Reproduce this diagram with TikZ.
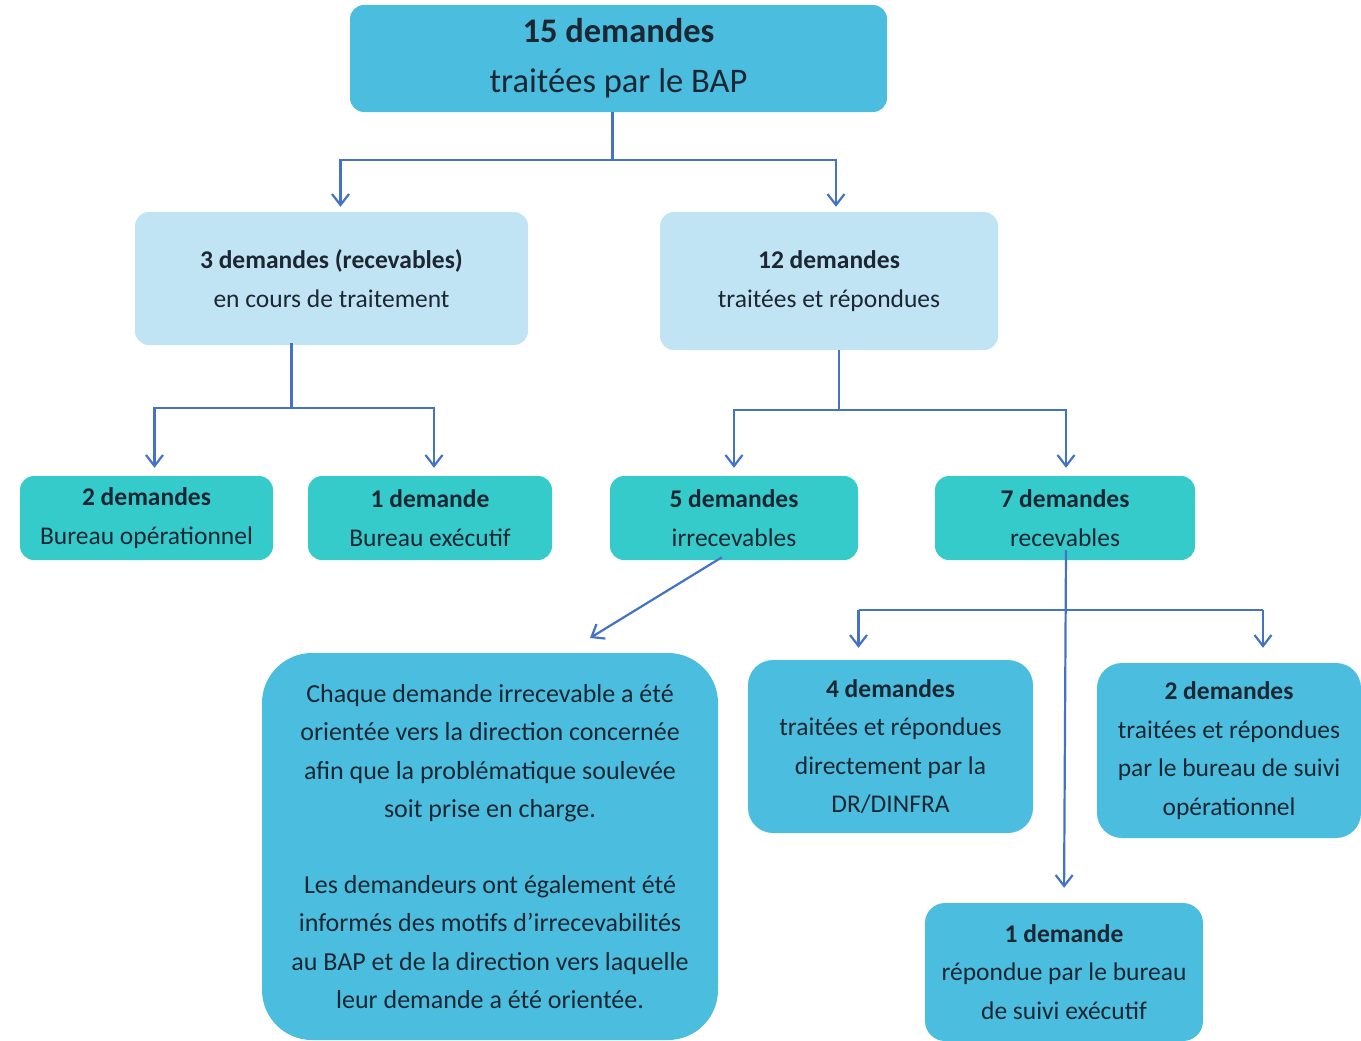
\documentclass[tikz,border=0pt]{standalone}
\usepackage{fontspec}
\setmainfont{Carlito}
\usepackage{xcolor}
\usepackage{tikz}
\usetikzlibrary{positioning,arrows.meta}
\definecolor{skyblue}{HTML}{4BBEDF}
\definecolor{paleblue}{HTML}{C0E4F3}
\definecolor{teal}{HTML}{36CBCB}
\definecolor{linkblue}{HTML}{4472C4}
\definecolor{inkdark}{HTML}{1C2733}
\tikzset{
  blk/.style={rectangle, rounded corners=14pt, fill=#1, align=center,
              inner sep=0pt, text=inkdark,
              font=\fontsize{25.5}{38.5}\selectfont},
  ln/.style={line width=2.2pt, draw=linkblue},
  ar/.style={-{Straight Barb[length=11pt,width=17pt,line width=2.2pt]},
             line width=2.2pt, draw=linkblue},
}

\begin{document}
\begin{tikzpicture}[x=1pt, y=-1pt]
  \useasboundingbox (0,0) rectangle (1361,1041);

  \node[blk=skyblue, minimum width=537pt, minimum height=107pt,
        font=\fontsize{34.5}{50}\selectfont] (bap) at (618.5,58.5)
        {\textbf{15 demandes}\\traitées par le BAP};
  \node[blk=paleblue, minimum width=393pt, minimum height=133pt] (encours) at (331.5,278.5)
        {\textbf{3 demandes (recevables)}\\en cours de traitement};
  \node[blk=paleblue, minimum width=338pt, minimum height=138pt] (traitees) at (829,281)
        {\textbf{12 demandes}\\traitées et répondues};
  \node[blk=teal, minimum width=253pt, minimum height=84pt] (opera) at (146.5,518)
        {\textbf{2 demandes}\\Bureau opérationnel};
  \node[blk=teal, minimum width=244pt, minimum height=84pt] (exec) at (430,518)
        {\textbf{1 demande}\\Bureau exécutif};
  \node[blk=teal, minimum width=248pt, minimum height=84pt] (irrec) at (734,518)
        {\textbf{5 demandes}\\irrecevables};
  \node[blk=teal, minimum width=260pt, minimum height=84pt] (recev) at (1065,518)
        {\textbf{7 demandes}\\recevables};
  \node[blk=skyblue, rounded corners=50pt, minimum width=456pt, minimum height=387pt,
        font=\fontsize{26}{38.2}\selectfont] (orient) at (490,846.5)
        {Chaque demande irrecevable a été\\orientée vers la direction concernée\\afin que la problématique soulevée\\soit prise en charge.\\[38.2pt]
         Les demandeurs ont également été\\informés des motifs d’irrecevabilités\\au BAP et de la direction vers laquelle\\leur demande a été orientée.};
  \node[blk=skyblue, rounded corners=25pt, minimum width=285pt, minimum height=173pt] (dinfra) at (890.5,746.5)
        {\textbf{4 demandes}\\traitées et répondues\\directement par la\\DR/DINFRA};
  \node[blk=skyblue, rounded corners=25pt, minimum width=264pt, minimum height=175pt] (suiviop) at (1229,750.5)
        {\textbf{2 demandes}\\traitées et répondues\\par le bureau de suivi\\opérationnel};
  \node[blk=skyblue, rounded corners=20pt, minimum width=278pt, minimum height=138pt] (suiviex) at (1064,972)
        {\textbf{1 demande}\\répondue par le bureau\\de suivi exécutif};

  % BAP -> two branches
  \coordinate (j1) at ([xshift=-6pt]bap.south |- 0,160);
  \draw[ln] ([xshift=-6pt]bap.south) -- (j1);
  \draw[ar, shorten >=5pt] (j1) -| ([xshift=9pt]encours.north);
  \draw[ar, shorten >=5pt] (j1) -| ([xshift=7pt]traitees.north);

  % en cours -> bureaux
  \coordinate (j2) at ([xshift=-40pt]encours.south |- 0,408);
  \draw[ln] ([xshift=-40pt,yshift=2pt]encours.south) -- (j2);
  \draw[ar, shorten >=8pt] (j2) -| ([xshift=8pt]opera.north);
  \draw[ar, shorten >=8pt] (j2) -| ([xshift=4pt]exec.north);

  % traitees -> irrecevables / recevables
  \coordinate (j3) at ([xshift=10pt]traitees.south |- 0,410);
  \draw[ln] ([xshift=10pt]traitees.south) -- (j3);
  \draw[ar, shorten >=8pt] (j3) -| (irrec.north);
  \draw[ar, shorten >=8pt] (j3) -| ([xshift=1pt]recev.north);

  % irrecevables -> orientation
  \coordinate (d5) at (590,638);
  \draw[ar] ([xshift=-12pt,yshift=3pt]irrec.south) -- (d5);

  % recevables -> trois suites
  \coordinate (j4) at ([xshift=1pt]recev.south |- 0,610);
  \draw[ar, shorten >=15pt] ([xshift=1pt,yshift=10pt]recev.south) -- (suiviex.north);
  \draw[ln] (j4 -| dinfra.north) ++(-32pt,0) -- ([xshift=34pt]j4 -| suiviop.north);
  \draw[ar, shorten >=12pt] ([xshift=-32pt]j4 -| dinfra.north) -- ([xshift=-32pt]dinfra.north);
  \draw[ar, shorten >=15pt] ([xshift=34pt]j4 -| suiviop.north) -- ([xshift=34pt]suiviop.north);
\end{tikzpicture}
\end{document}
